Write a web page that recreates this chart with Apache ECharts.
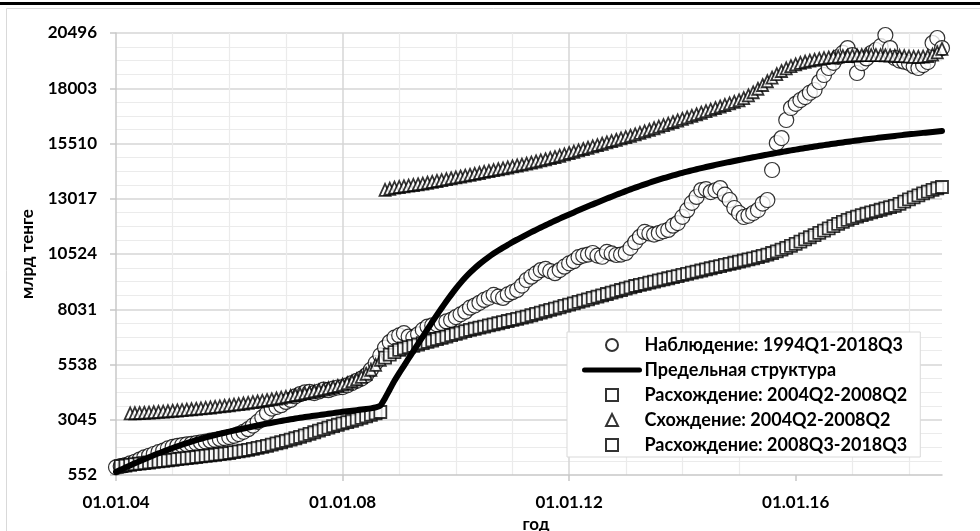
<!DOCTYPE html>
<html><head><meta charset="utf-8">
<script src="https://cdn.jsdelivr.net/npm/echarts@6/dist/echarts.min.js"></script>
<style>html,body{margin:0;padding:0;background:#fff}#c{width:980px;height:531px}</style>
</head><body><div id="c"></div>
<script>
// ---- Data ----
const seriesNames = [
  'Наблюдение: 1994Q1-2018Q3',
  'Предельная структура',
  'Расхождение: 2004Q2-2008Q2',
  'Схождение: 2004Q2-2008Q2',
  'Расхождение: 2008Q3-2018Q3'
];
const yTickLabels = ['552','3045','5538','8031','10524','13017','15510','18003','20496'];
const xTickYears = [2004, 2008, 2012, 2016];
const xTickLabels = ['01.01.04','01.01.08','01.01.12','01.01.16'];
const xMaxMonth = '2018-08';

// monthly series, each starting at the given month
const observationStart = '2004-01';
const observation = [
  900, 950, 1000, 1080, 1150, 1250, 1350, 1420, 1500, 1580, 1650, 1750,
  1820, 1870, 1900, 1930, 1960, 1990, 2020, 2060, 2100, 2140, 2180, 2220,
  2260, 2320, 2400, 2500, 2620, 2780, 2950, 3150, 3350, 3550, 3620, 3700,
  3850, 3940, 4100, 4200, 4280, 4300, 4250, 4320, 4400, 4380, 4450, 4500,
  4520, 4600, 4700, 4800, 4900, 5050, 5300, 5600, 5950, 6300, 6550, 6750,
  6850, 6950, 6800, 6750, 6900, 7100, 7250, 7300, 7350, 7400, 7480, 7550,
  7680, 7800, 7920, 8100, 8200, 8320, 8450, 8550, 8680, 8600, 8540, 8700,
  8800, 8900, 9100, 9350, 9500, 9650, 9800, 9850, 9750, 9660, 9800, 9950,
  10100, 10200, 10380, 10450, 10500, 10570, 10450, 10400, 10620, 10550, 10480, 10500,
  10570, 10800, 11065, 11300, 11520, 11450, 11400, 11470, 11550, 11610, 11800, 11920,
  12200, 12500, 12830, 13100, 13410, 13450, 13320, 13400, 13500, 13200, 12960, 12600,
  12373, 12193, 12250, 12373, 12509, 12800, 12960, 14314, 15532, 15757, 16570, 17111,
  17300, 17472, 17607, 17800, 17923, 18284, 18600, 18916, 19150, 19412, 19600, 19818,
  19500, 18690, 19141, 19350, 19593, 19728, 19900, 20405, 19818, 19367, 19250, 19200,
  19141, 19000, 18916, 19050, 19187, 20044, 20270, 19818
];

const limitStart = '2004-01';
const limitStructure = [
  690, 790, 890, 985, 1080, 1170, 1260, 1350, 1440, 1530, 1610, 1690,
  1770, 1845, 1920, 1990, 2060, 2125, 2185, 2245, 2300, 2355, 2410, 2460,
  2510, 2560, 2605, 2650, 2695, 2740, 2785, 2830, 2870, 2910, 2950, 2990,
  3030, 3065, 3100, 3135, 3165, 3195, 3225, 3255, 3285, 3315, 3345, 3375,
  3405, 3430, 3455, 3480, 3505, 3530, 3560, 3600, 3680, 4020, 4410, 4800,
  5150, 5480, 5810, 6140, 6470, 6800, 7130, 7460, 7780, 8090, 8390, 8680,
  8960, 9220, 9460, 9680, 9880, 10065, 10235, 10395, 10545, 10685, 10815, 10935,
  11060, 11175, 11288, 11399, 11508, 11615, 11720, 11823, 11924, 12023, 12120, 12215,
  12309, 12402, 12494, 12585, 12675, 12764, 12852, 12939, 13025, 13110, 13194, 13277,
  13359, 13439, 13517, 13593, 13667, 13739, 13809, 13877, 13943, 14007, 14069, 14129,
  14187, 14243, 14297, 14349, 14399, 14448, 14496, 14543, 14589, 14634, 14678, 14721,
  14763, 14805, 14847, 14888, 14929, 14969, 15009, 15048, 15087, 15125, 15162, 15199,
  15235, 15270, 15305, 15339, 15372, 15405, 15437, 15468, 15499, 15529, 15559, 15588,
  15617, 15645, 15673, 15700, 15727, 15753, 15779, 15804, 15829, 15853, 15877, 15900,
  15923, 15945, 15967, 15989, 16010, 16031, 16052, 16075
];

const divergence1Start = '2004-02';
const divergence1 = [
  950, 980, 1010, 1040, 1065, 1090, 1115, 1140, 1165, 1190, 1215,
  1240, 1265, 1290, 1315, 1340, 1365, 1390, 1415, 1440, 1465, 1490, 1515,
  1545, 1580, 1615, 1650, 1690, 1730, 1775, 1820, 1870, 1920, 1975, 2030,
  2090, 2150, 2210, 2270, 2340, 2410, 2480, 2550, 2620, 2690, 2760, 2820,
  2880, 2940, 3000, 3060, 3130, 3200, 3270, 3330, 3395
];

const convergence1Start = '2004-04';
const convergence1 = [
  3330, 3340, 3350, 3360, 3370, 3385, 3400, 3415, 3430,
  3450, 3465, 3480, 3500, 3520, 3540, 3560, 3580, 3600, 3625, 3650, 3675,
  3700, 3725, 3750, 3780, 3810, 3840, 3870, 3900, 3935, 3970, 4005, 4040,
  4080, 4120, 4160, 4200, 4240, 4285, 4330, 4375, 4420, 4470, 4520, 4570,
  4630, 4700, 4780, 4870, 4980, 5120, 5300, 5520, 5750
];

const convergence2Start = '2008-10';
const convergence2 = [
  13420, 13470, 13520,
  13550, 13580, 13610, 13640, 13670, 13700, 13740, 13780, 13820, 13860, 13900, 13940,
  13980, 14020, 14060, 14100, 14140, 14180, 14230, 14270, 14310, 14350, 14390, 14430,
  14480, 14520, 14560, 14600, 14650, 14700, 14750, 14800, 14850, 14900, 14960, 15020,
  15080, 15140, 15200, 15260, 15320, 15380, 15440, 15500, 15560, 15620, 15680, 15740,
  15800, 15860, 15920, 15990, 16060, 16130, 16200, 16270, 16340, 16410, 16480, 16550,
  16620, 16690, 16760, 16830, 16900, 16970, 17040, 17110, 17180, 17250, 17320, 17390,
  17460, 17560, 17680, 17820, 17980, 18150, 18320, 18480, 18640, 18780, 18900, 19000,
  19080, 19150, 19200, 19250, 19290, 19330, 19360, 19390, 19410, 19430, 19450, 19470,
  19480, 19490, 19500, 19500, 19500, 19500, 19500, 19490, 19480, 19470, 19460, 19450,
  19430, 19420, 19420, 19430, 19460, 19520, 19620, 19780
];

const divergence2Start = '2008-10';
const divergence2 = [
  5850, 5980, 6100,
  6200, 6260, 6320, 6380, 6440, 6500, 6560, 6620, 6680, 6740, 6800, 6860,
  6920, 6980, 7040, 7100, 7150, 7200, 7250, 7300, 7350, 7400, 7450, 7500,
  7550, 7600, 7650, 7700, 7760, 7820, 7880, 7940, 8000, 8060, 8120, 8180,
  8240, 8300, 8360, 8420, 8480, 8540, 8600, 8660, 8720, 8780, 8840, 8900,
  8960, 9020, 9080, 9130, 9180, 9230, 9280, 9330, 9380, 9430, 9480, 9530,
  9580, 9630, 9680, 9730, 9780, 9830, 9880, 9930, 9980, 10030, 10080, 10130,
  10180, 10230, 10280, 10330, 10380, 10440, 10500, 10570, 10640, 10720, 10800, 10890,
  10980, 11080, 11180, 11280, 11380, 11480, 11580, 11680, 11780, 11880, 11970, 12060,
  12140, 12210, 12280, 12340, 12400, 12460, 12520, 12580, 12640, 12700, 12790, 12890,
  12990, 13080, 13170, 13260, 13340, 13420, 13490, 13547
];

// ---- helpers ----
function monthToYear(ym, offset) {
  const [y, m] = ym.split('-').map(Number);
  return y + (m - 1 + offset) / 12;
}
function pairs(start, values) {
  return values.map((v, i) => [monthToYear(start, i), v]);
}

const FONT = 'Lato';
const yMin = Number(yTickLabels[0]);
const yMax = Number(yTickLabels[yTickLabels.length - 1]);
const yStep = Number(yTickLabels[1]) - yMin;

const ICON_RECT = 'path://M0,0L10,0L10,10L0,10Z';
const ICON_TRI = 'path://M5,0L10,10L0,10Z';

const chart = echarts.init(document.getElementById('c'), null, {renderer: 'canvas'});
const markerStyle = {color: '#fff', borderColor: '#000', borderWidth: 1.8};

chart.setOption({
  animation: false,
  textStyle: {fontFamily: FONT},
  graphic: [
    {type: 'line', silent: true, shape: {x1: 0, y1: 3.5, x2: 980, y2: 3.5}, style: {stroke: '#000', lineWidth: 3}},
    {type: 'rect', silent: true, shape: {x: 6.5, y: 8.5, width: 990, height: 540}, style: {fill: null, stroke: '#d9d9d9', lineWidth: 1}}
  ],
  grid: {left: 116, right: 38, top: 33, bottom: 56, containLabel: false, outerBoundsMode: 'none'},
  legend: {
    orient: 'vertical', left: 567, top: 332,
    padding: [3, 13, 2, 15],
    itemWidth: 55, itemHeight: 12, itemGap: 5,
    symbolKeepAspect: true,
    backgroundColor: '#fff', borderColor: '#d9d9d9', borderWidth: 1,
    textStyle: {fontFamily: FONT, fontWeight: 'bold', fontSize: 18, color: '#000', lineHeight: 20},
    data: [
      {name: seriesNames[0], icon: 'circle'},
      {name: seriesNames[1],
       itemStyle: {color: 'rgba(0,0,0,0)', borderColor: 'rgba(0,0,0,0)', borderWidth: 0},
       lineStyle: {color: '#000', width: 5, cap: 'round'}},
      {name: seriesNames[2], icon: ICON_RECT},
      {name: seriesNames[3], icon: ICON_TRI},
      {name: seriesNames[4], icon: ICON_RECT}
    ]
  },
  xAxis: {
    type: 'value',
    min: xTickYears[0], max: monthToYear(xMaxMonth, 0), interval: 4,
    name: 'год', nameLocation: 'middle', nameGap: 35,
    nameTextStyle: {fontFamily: FONT, fontWeight: 'bold', fontSize: 17, color: '#000', padding: [0, 0, 0, 14]},
    axisLine: {show: true, lineStyle: {color: '#c8c8c8', width: 1.5}},
    axisTick: {show: true, length: 6, lineStyle: {color: '#c8c8c8', width: 1.5}, customValues: xTickYears},
    axisLabel: {
      margin: 19, color: '#000', fontFamily: FONT, fontWeight: 'bold', fontSize: 17,
      customValues: xTickYears,
      formatter: v => xTickLabels[xTickYears.indexOf(Math.round(v))] || ''
    },
    splitLine: {show: true, showMaxLine: false, showMinLine: false, lineStyle: {color: '#d6d6d6', width: 1.5}},
    minorTick: {show: false, splitNumber: 4},
    minorSplitLine: {show: true, lineStyle: {color: '#ebebeb', width: 1.2}}
  },
  yAxis: [
    {
      type: 'value', min: yMin, max: yMax, show: false
    },
    {
      type: 'value', min: 0, max: yMax - yMin, interval: yStep, position: 'left',
      name: 'млрд тенге', nameLocation: 'middle', nameGap: 80, nameRotate: 90,
      nameTextStyle: {fontFamily: FONT, fontWeight: 'bold', fontSize: 17, color: '#000'},
      axisLine: {show: true, lineStyle: {color: '#c8c8c8', width: 1.5}},
      axisTick: {show: true, length: 6, lineStyle: {color: '#c8c8c8', width: 1.5}},
      axisLabel: {
        margin: 19, color: '#000', fontFamily: FONT, fontWeight: 'bold', fontSize: 17,
        formatter: v => yTickLabels[Math.round(v / yStep)]
      },
      splitLine: {show: true, showMinLine: false, lineStyle: {color: '#d6d6d6', width: 1.5}},
      minorTick: {show: false, splitNumber: 4},
      minorSplitLine: {show: true, lineStyle: {color: '#ebebeb', width: 1.2}}
    }
  ],
  series: [
    {
      name: seriesNames[0], type: 'scatter', yAxisIndex: 0,
      symbol: 'circle', symbolSize: 15,
      itemStyle: {color: '#fff', borderColor: '#000', borderWidth: 1.2},
      data: pairs(observationStart, observation)
    },
    {
      name: seriesNames[1], type: 'line', yAxisIndex: 0,
      symbol: 'none', showSymbol: false, smooth: 0.2,
      lineStyle: {color: '#000', width: 6, cap: 'round', join: 'round'},
      itemStyle: {color: '#000'},
      data: pairs(limitStart, limitStructure)
    },
    {
      name: seriesNames[2], type: 'scatter', yAxisIndex: 0,
      symbol: 'rect', symbolSize: 12,
      itemStyle: markerStyle,
      data: pairs(divergence1Start, divergence1)
    },
    {
      name: seriesNames[3], type: 'scatter', yAxisIndex: 0,
      symbol: 'triangle', symbolSize: [11, 12],
      itemStyle: markerStyle,
      data: pairs(convergence1Start, convergence1).concat(pairs(convergence2Start, convergence2))
    },
    {
      name: seriesNames[4], type: 'scatter', yAxisIndex: 0,
      symbol: 'rect', symbolSize: 12,
      itemStyle: markerStyle,
      data: pairs(divergence2Start, divergence2)
    }
  ]
});
</script>
</body></html>
